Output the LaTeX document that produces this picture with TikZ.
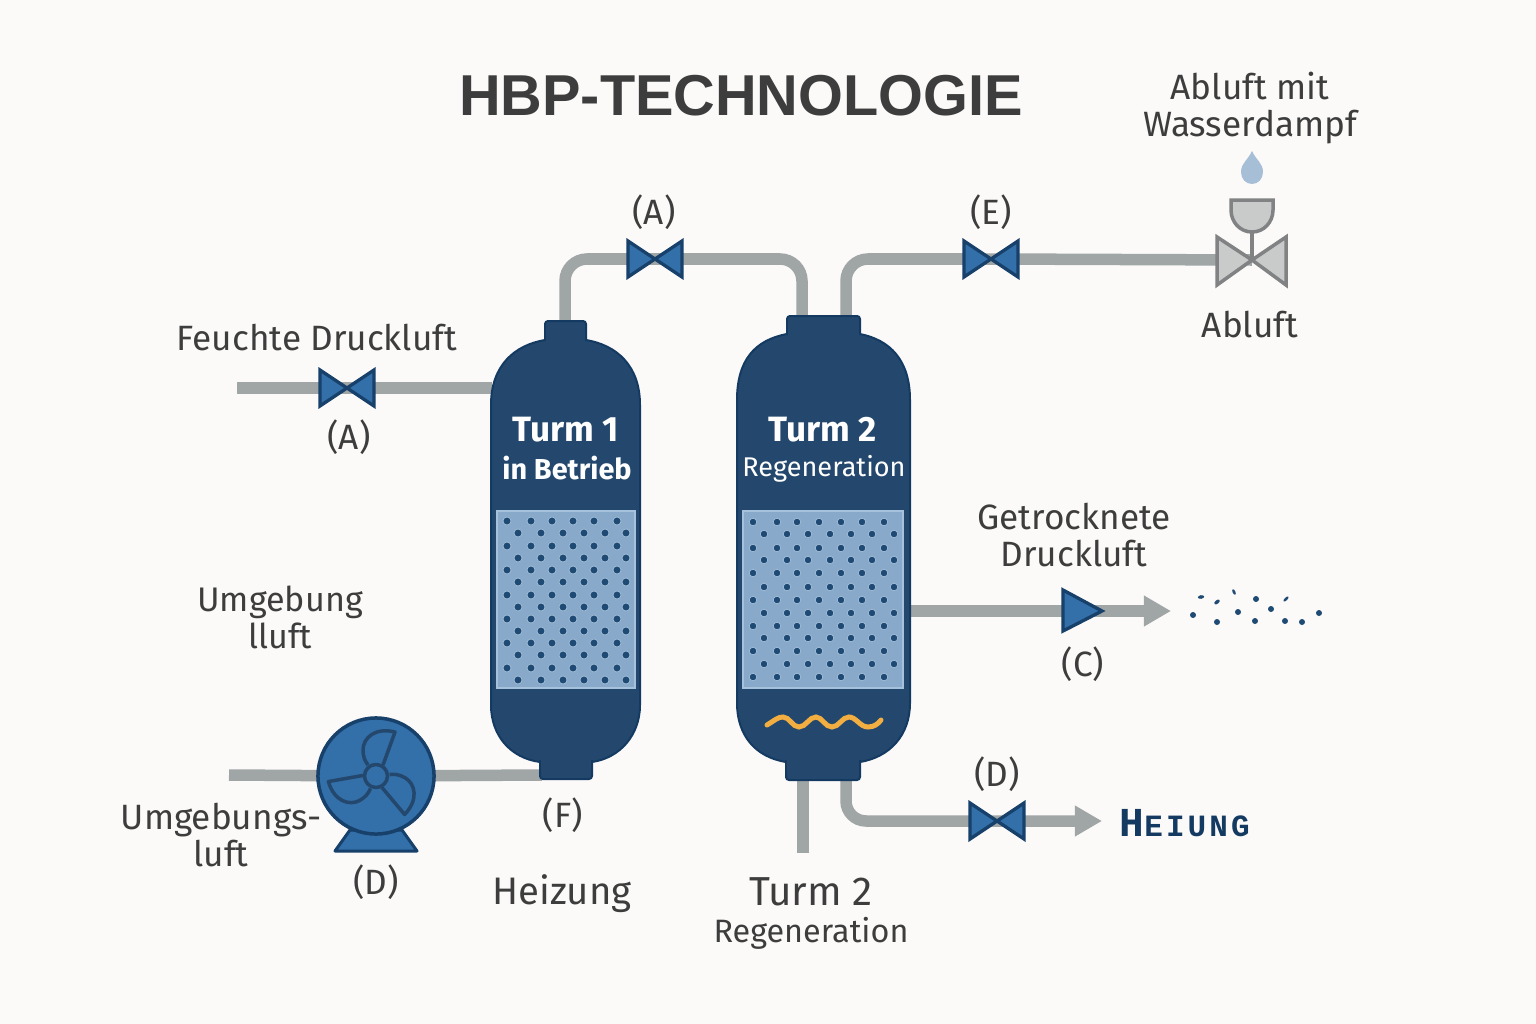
\documentclass[tikz,border=0pt]{standalone}
\usepackage{fontspec}
\usepackage{tikz}
\usetikzlibrary{arrows.meta}
\setmainfont{Fira Sans}
\newfontfamily\titlefont{Liberation Sans}
\newfontfamily\heiungfont[LetterSpace=10]{Liberation Mono}
\definecolor{paper}{HTML}{FBFAF8}
\definecolor{pipegray}{HTML}{A0A5A6}
\definecolor{towerblue}{HTML}{24486D}
\definecolor{towerline}{HTML}{143A62}
\definecolor{bedblue}{HTML}{88A9C9}
\definecolor{bedline}{HTML}{A6C1DB}
\definecolor{dotblue}{HTML}{1F4A73}
\definecolor{valveblue}{HTML}{336FA8}
\definecolor{valveline}{HTML}{17406A}
\definecolor{textgray}{HTML}{3D3D3D}
\definecolor{graybody}{HTML}{C9CBCB}
\definecolor{grayline}{HTML}{808283}
\definecolor{heatorange}{HTML}{F2AE40}
\tikzset{
  lbl/.style={text=textgray, font=\fontsize{10}{10.5}\selectfont, inner sep=0pt, align=center},
  whitelbl/.style={text=white, inner sep=0pt, align=center},
  pipe/.style={draw=pipegray, line width=0.115cm},
  tower/.style={fill=towerblue, draw=towerline, line width=0.02cm},
  bed/.style={fill=bedblue, draw=bedline, line width=0.02cm},
  dot/.style={fill=dotblue, draw=bedline, line width=0.007cm},
  bladeline/.style={draw=towerblue, line width=0.035cm, line join=round},
  valve/.pic={
    \draw[fill=valveblue, draw=valveline, line width=0.033cm, line join=miter]
      (-27,-18) -- (0,0) -- (-27,18) -- cycle;
    \draw[fill=valveblue, draw=valveline, line width=0.033cm, line join=miter]
      (27,-18) -- (0,0) -- (27,18) -- cycle;
  }
}
\begin{document}
\begin{tikzpicture}[x=0.01cm, y=-0.01cm]
\useasboundingbox (0,0) rectangle (1536,1024);
\fill[paper] (0,0) rectangle (1536,1024);

%\draw[step=1cm,gray,very thin] (0,-1024) grid (1536,0);

\coordinate (inStart) at (237,388);
\coordinate (turmAleft) at (492,388);
\coordinate (turmAtop) at (565,325);
\coordinate (valveTop) at (655,259);
\coordinate (turmBtopA) at (802,320);
\coordinate (turmBtopB) at (846,320);
\coordinate (valveOut) at (991,259);
\coordinate (valveAbluft) at (1252,260);
\coordinate (valveIn) at (347,388);
\coordinate (outStart) at (908,611);
\coordinate (outEnd) at (1171,611);
\coordinate (fanStart) at (229,775);
\coordinate (fanCenter) at (376,776);
\coordinate (fanEnd) at (542,775);
\coordinate (turmBbotA) at (803,778);
\coordinate (turmBend) at (803,853);
\coordinate (turmBbotB) at (846,778);
\coordinate (heatEnd) at (1102,821);
\coordinate (valveHeat) at (997,821);

% pipes
\draw[pipe] (inStart) -- (turmAleft);
\draw[pipe, rounded corners=0.22cm] (turmAtop) |- (valveTop) -| (turmBtopA);
\draw[pipe, rounded corners=0.22cm] (turmBtopB) |- (valveOut) -- (valveAbluft);
\draw[pipe, -{Triangle[length=0.27cm,width=0.29cm]}] (outStart) -- (outEnd);
\draw[pipe] (fanStart) -- (fanCenter) -- (fanEnd);
\draw[pipe] (turmBbotA) -- (turmBend);
\draw[pipe, rounded corners=0.2cm, -{Triangle[length=0.27cm,width=0.29cm]}] (turmBbotB) |- (heatEnd);

% tower 1
\draw[tower, rounded corners=0.03cm] (545,342) -- (545,321) -- (586,321) -- (586,342);
\draw[tower] (545,340) .. controls (515,345) and (491,365) .. (491,405)
  -- (491,705) .. controls (491,735) and (510,758) .. (540,762)
  -- (592,762) .. controls (620,758) and (640,735) .. (640,705)
  -- (640,405) .. controls (640,365) and (616,345) .. (586,340) -- cycle;
\draw[tower, rounded corners=0.03cm] (540,760) -- (540,779) -- (592,779) -- (592,760);
\fill[towerblue] (546,330) rectangle (585,350);
\fill[towerblue] (541,750) rectangle (591,772);
\draw[bed] (497,511) rectangle (635,688);
\foreach \y in {521,546,570,595,619,643,668}
  \foreach \x in {507,531,552,573,594,617}
    \draw[dot] (\x,\y) circle (0.04cm);
\foreach \y in {533,558,582,607,631,655,680}
  \foreach \x in {518,541,563,584,605,626}
    \draw[dot] (\x,\y) circle (0.04cm);

% tower 2
\draw[tower, rounded corners=0.03cm] (787,336) -- (787,316) -- (860,316) -- (860,336);
\draw[tower] (787,334) .. controls (755,340) and (737,360) .. (737,400)
  -- (737,703) .. controls (737,735) and (755,757) .. (786,762)
  -- (860,762) .. controls (890,757) and (910,735) .. (910,703)
  -- (910,400) .. controls (910,360) and (890,340) .. (860,334) -- cycle;
\draw[tower, rounded corners=0.03cm] (786,760) -- (786,780) -- (860,780) -- (860,760);
\fill[towerblue] (788,325) rectangle (859,345);
\fill[towerblue] (787,750) rectangle (859,772);
\draw[bed] (743,511) rectangle (903,688);
\foreach \y in {522,548,573,600,626,651,677}
  \foreach \x in {753,777,797,819,841,862,884}
    \draw[dot] (\x,\y) circle (0.038cm);
\foreach \y in {534,560,587,613,638,664}
  \foreach \x in {764,787,808,830,851,872,894}
    \draw[dot] (\x,\y) circle (0.038cm);
\draw[draw=heatorange, line width=0.05cm, line cap=round]
  (767,725) .. controls (775,720) and (778,717) .. (783,717)
  .. controls (790,717) and (792,727) .. (799,727)
  .. controls (806,727) and (809,717) .. (816,717)
  .. controls (822,717) and (825,727) .. (832,727)
  .. controls (839,727) and (842,717) .. (849,717)
  .. controls (856,717) and (860,727) .. (868,727)
  .. controls (874,727) and (878,724) .. (881,720);

% valves
\path (valveIn) pic {valve};
\path (valveTop) pic {valve};
\path (valveOut) pic {valve};
\path (valveHeat) pic {valve};
\draw[fill=valveblue, draw=valveline, line width=0.033cm] (1063,590) -- (1102,611) -- (1063,631) -- cycle;

% gray valve with drop
\draw[fill=graybody, draw=grayline, line width=0.035cm] (1217,237) -- (1252,260) -- (1217,285) -- cycle;
\draw[fill=graybody, draw=grayline, line width=0.035cm] (1286,237) -- (1252,260) -- (1286,285) -- cycle;
\draw[draw=grayline, line width=0.035cm] (valveAbluft) -- (1252,231);
\draw[fill=graybody, draw=grayline, line width=0.035cm]
  (1231,200) -- (1273,200) -- (1273,210) .. controls (1273,222) and (1264,232) .. (1252,232)
  .. controls (1240,232) and (1231,222) .. (1231,210) -- cycle;
\fill[bedblue!75!white] (1252,151) .. controls (1256,160) and (1263,163) .. (1263,172)
  .. controls (1263,179) and (1258,184) .. (1252,184)
  .. controls (1246,184) and (1241,179) .. (1241,172)
  .. controls (1241,163) and (1248,160) .. (1252,151) -- cycle;

% fan
\draw[fill=valveblue, draw=valveline, line width=0.03cm, line join=round] (350,830) -- (335,851) -- (417,851) -- (402,830) -- cycle;
\draw[fill=valveblue, draw=valveline, line width=0.035cm] (fanCenter) circle (0.58cm);
\foreach \a in {0,120,240}
  \draw[bladeline, rotate around={\a:(fanCenter)}]
    (383,765) -- (395,732) .. controls (375,727) and (363,738) .. (363,750)
    .. controls (363,757) and (365,761) .. (368,765);
\draw[bladeline, fill=valveblue] (fanCenter) circle (0.115cm);

% outlet dots
\foreach \x/\y in {1193/615,1217/622,1238/612,1255/621,1271/609,1285/621,1302/622,1319/613,1256/599}
  \fill[dotblue] (\x,\y) circle (0.03cm);
\fill[dotblue, rotate around={10:(1201,597)}] (1201,597) ellipse (0.032cm and 0.018cm);
\fill[dotblue, rotate around={40:(1217,602)}] (1217,602) ellipse (0.032cm and 0.018cm);
\fill[dotblue, rotate around={-65:(1234,592)}] (1234,592) ellipse (0.03cm and 0.014cm);
\fill[dotblue, rotate around={45:(1286,599)}] (1286,599) ellipse (0.034cm and 0.014cm);

% labels
\node[text=textgray, inner sep=0pt, font=\titlefont\fontsize{16.4}{20}\selectfont\bfseries] (title) at (741,96) {HBP-TECHNOLOGIE};
\node[lbl] (abluftMit) at (1250,108) {Abluft mit\\Wasserdampf};
\node[lbl] (labelA) at (654,212) {(A)};
\node[lbl] (labelE) at (991,212) {(E)};
\node[lbl] (abluft) at (1250,325) {Abluft};
\node[lbl] (feuchte) at (317,338) {Feuchte Druckluft};
\node[lbl] (labelAin) at (349,437) {(A)};
\node[lbl, font=\fontsize{9.7}{10.5}\selectfont] (umgebung) at (280,617) {Umgebung\\lluft};
\node[lbl] (getrocknet) at (1074,535) {Getrocknete\\Druckluft};
\node[lbl] (labelC) at (1083,664) {(C)};
\node[lbl] (labelD) at (997,774) {(D)};
\node[lbl] (umgebungs) at (221,835) {Umgebungs-\\luft};
\node[lbl] (labelDfan) at (376,882) {(D)};
\node[lbl] (labelF) at (563,815) {(F)};
\node[lbl, font=\fontsize{10.9}{12}\selectfont] (heizung) at (562,894) {Heizung};
\node[lbl, font=\fontsize{11.5}{12}\selectfont] (turmBlow) at (811,892) {Turm 2};
\node[lbl, font=\fontsize{9.2}{11}\selectfont] (regenLow) at (811,933) {Regeneration};
\node[whitelbl, font=\fontsize{10}{11}\selectfont\bfseries] (turmA) at (566,430) {Turm 1};
\node[whitelbl, font=\fontsize{8.2}{10}\selectfont\bfseries] (betrieb) at (567,468) {in Betrieb};
\node[whitelbl, font=\fontsize{10}{11}\selectfont\bfseries] (turmB) at (823,430) {Turm 2};
\node[whitelbl, font=\fontsize{7.7}{10}\selectfont] (regen) at (824,469) {Regeneration};
\node[text=towerline, inner sep=0pt, anchor=west] (heiung) at (1119,823) {\heiungfont\bfseries\fontsize{11.7}{14}\selectfont H\fontsize{8.8}{14}\selectfont EIUNG};

\end{tikzpicture}
\end{document}
